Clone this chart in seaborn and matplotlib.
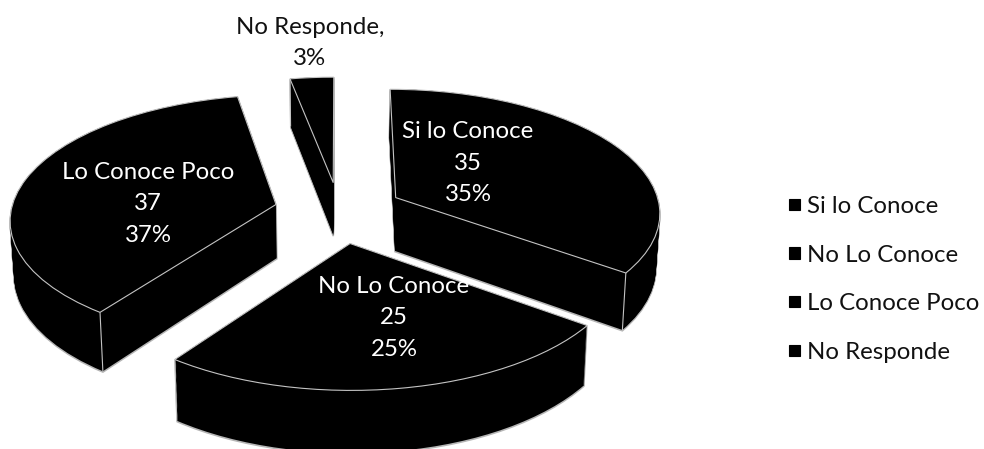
import numpy as np
import matplotlib
matplotlib.use("Agg")
import matplotlib.pyplot as plt
from matplotlib.transforms import Transform
import seaborn as sns

categories = ["Si lo Conoce", "No Lo Conoce", "Lo Conoce Poco", "No Responde"]
values = [35, 25, 37, 3]

sns.set_theme(style="white")
plt.rcParams["font.family"] = ["Lato", "DejaVu Sans"]

# camera that lays the pie plane down in pixel space
CX, CY, SX, SY, PERSP, DEPTH, TAPER = 339, 211, 265, 123, 0.11, 54, 0.012
EXPLODE = [0.243, 0.26, 0.245, 0.237]
LAYERS = 56
SLICE_Z = {3: 1, 2: 2, 0: 3, 1: 4}


class Camera(Transform):
    input_dims = output_dims = 2
    is_separable = False
    has_inverse = False

    def __init__(self, drop=0.0):
        super().__init__()
        self.drop = drop

    def transform_non_affine(self, pts):
        pts = np.asarray(pts, dtype=float)
        w = 1 + PERSP * pts[:, 1]
        x = SX * pts[:, 0] / w * (1 - TAPER * self.drop)
        y = (-SY * pts[:, 1] + DEPTH * self.drop) / w
        return np.column_stack((CX + x, CY + y))


fig, ax = plt.subplots(figsize=(9.84, 4.49), dpi=100)
fig.subplots_adjust(0, 0, 1, 1)


def layer(drop, zfrac, color, edge, lw):
    wedges, _ = ax.pie(values, startangle=90, counterclock=False, explode=EXPLODE,
                       colors=[color] * len(values), radius=1,
                       wedgeprops=dict(edgecolor=edge, linewidth=lw))
    for i, w in enumerate(wedges):
        w.set_transform(Camera(drop) + ax.transData)
        w.set_zorder(SLICE_Z[i] + zfrac)
    return wedges


drops = np.linspace(1, 0, LAYERS)
for d in drops:                       # soft rim around the sides
    layer(d + 0.015, 0.1, "#b5b5b5", "#b5b5b5", 1.1)
for k, d in enumerate(drops):         # solid body
    layer(d, 0.2 + 0.5 * k / LAYERS, "black", "none", 0)
top = layer(0, 0.8, "black", "#c4c4c4", 0.8)

for i, w in enumerate(top):           # visible front corner of each slice
    ang = min((w.theta1, w.theta2), key=lambda t: np.sin(np.deg2rad(t)))
    p = np.array([[w.center[0] + np.cos(np.deg2rad(ang)),
                   w.center[1] + np.sin(np.deg2rad(ang))]])
    a = Camera(0).transform_non_affine(p)[0]
    b = Camera(1).transform_non_affine(p)[0]
    ax.plot([a[0], b[0]], [a[1], b[1]], color="#c4c4c4", lw=0.8,
            zorder=SLICE_Z[i] + 0.85, solid_capstyle="butt")

ax.set_aspect("auto")
ax.set_xlim(0, 984)
ax.set_ylim(449, 0)
ax.axis("off")

FS = 17.3
LS = 1.6
label_pos = {0: (468, 163), 1: (394, 318), 2: (148, 204)}
for i, (x, y) in label_pos.items():
    ax.text(x, y, f"{categories[i]}\n{values[i]}\n{values[i]}%", color="white",
            ha="center", va="center", fontsize=FS, linespacing=LS, zorder=10)
ax.text(310, 43, f"{categories[3]},\n{values[3]}%", color="#111111", ha="center",
        va="center", fontsize=FS, linespacing=LS, zorder=10)

ax.legend(top, categories, loc="center left", bbox_to_anchor=(767.4 / 984, 1 - 279.5 / 449),
          frameon=False, fontsize=FS, handlelength=0.46, handleheight=0.36,
          handletextpad=0.29, labelspacing=1.15, labelcolor="#111111")
for h in ax.get_legend().get_patches():
    h.set_edgecolor("black")

fig.savefig("out.png", dpi=100)
